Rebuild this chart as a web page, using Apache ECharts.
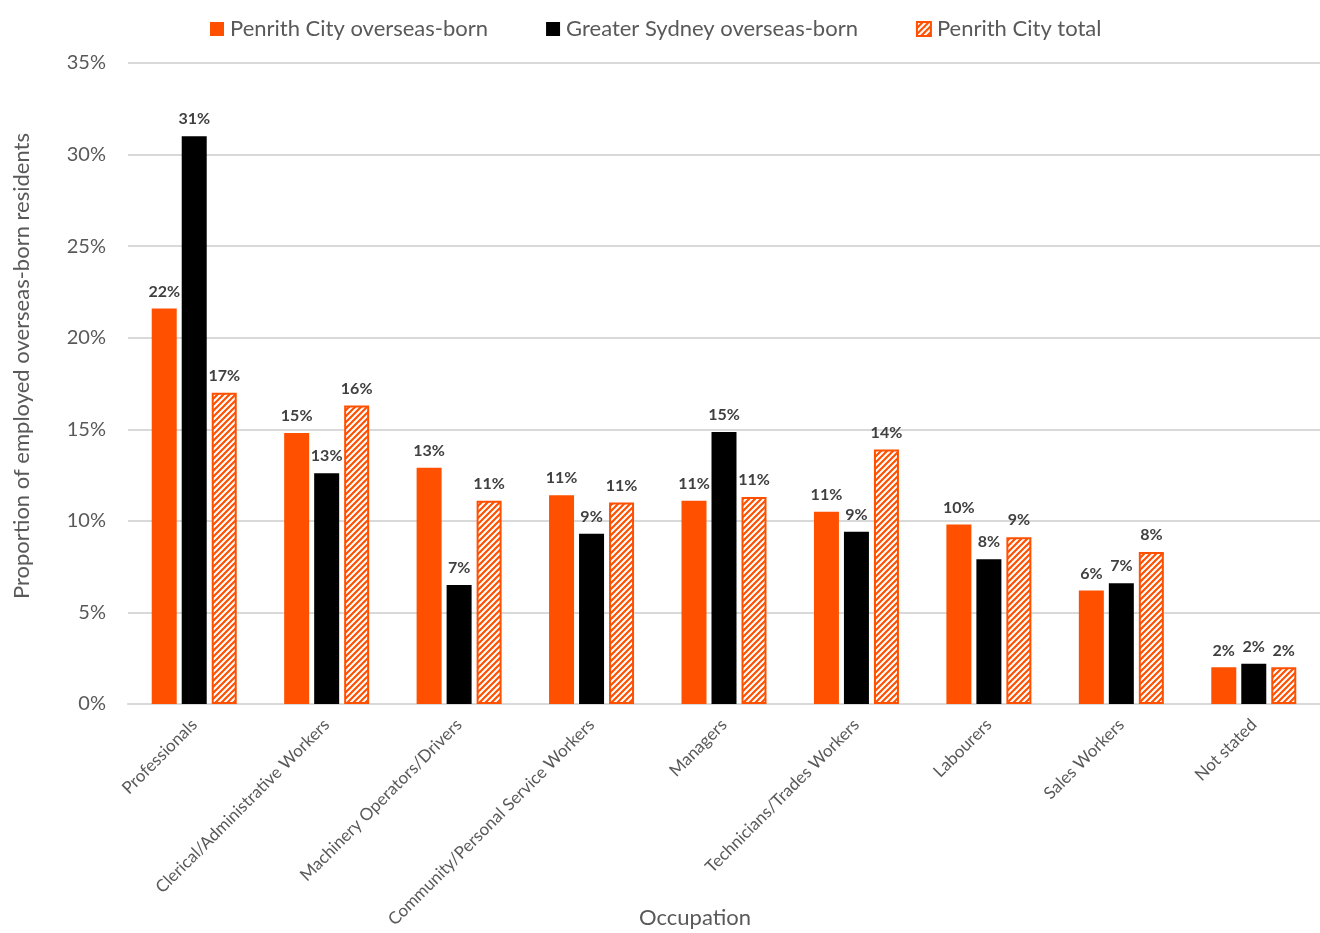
<!DOCTYPE html>
<html>
<head>
<meta charset="utf-8">
<script src="https://cdn.jsdelivr.net/npm/echarts@6/dist/echarts.min.js"></script>
<style>
  html, body { margin: 0; padding: 0; background: #fff; }
  #chart { width: 1320px; height: 933px; }
</style>
</head>
<body>
<div id="chart"></div>
<script>
// Occupation categories (x axis)
const occupations = [
  'Professionals',
  'Clerical/Administrative Workers',
  'Machinery Operators/Drivers',
  'Community/Personal Service Workers',
  'Managers',
  'Technicians/Trades Workers',
  'Labourers',
  'Sales Workers',
  'Not stated'
];

// Share of employed residents by occupation, in percent
const penrithOverseas = [21.6, 14.8, 12.9, 11.4, 11.1, 10.5, 9.8, 6.2, 2.0];
const sydneyOverseas  = [31.0, 12.6, 6.5, 9.3, 14.85, 9.4, 7.9, 6.6, 2.2];
const penrithTotal    = [17.0, 16.3, 11.1, 11.0, 11.3, 13.9, 9.1, 8.3, 2.0];

const seriesNames = ['Penrith City overseas-born', 'Greater Sydney overseas-born', 'Penrith City total'];
const yTicks = { min: 0, max: 35, interval: 5 };

const ORANGE = '#FF5000';
const TEXT_GREY = '#595959';
const FONT = 'Lato, "Open Sans", sans-serif';

// Diagonal hatch fill for the Penrith total bars
function hatchPattern() {
  const size = 6;
  const c = document.createElement('canvas');
  c.width = size; c.height = size;
  const ctx = c.getContext('2d');
  ctx.fillStyle = '#ffffff';
  ctx.fillRect(0, 0, size, size);
  ctx.strokeStyle = ORANGE;
  ctx.lineWidth = 2.2;
  ctx.beginPath();
  ctx.moveTo(-1, size + 1); ctx.lineTo(size + 1, -1);
  ctx.moveTo(-1, 1); ctx.lineTo(1, -1);
  ctx.moveTo(size - 1, size + 1); ctx.lineTo(size + 1, size - 1);
  ctx.stroke();
  return c;
}

const labelStyle = {
  show: true,
  position: 'top',
  distance: 9,
  fontFamily: FONT,
  fontSize: 16,
  fontWeight: 'bold',
  color: '#404040',
  formatter: p => Math.round(p.value) + '%'
};

const chart = echarts.init(document.getElementById('chart'), null, { renderer: 'canvas' });

chart.setOption({
  animation: false,
  backgroundColor: '#ffffff',
  legend: {
    top: 13,
    left: 205,
    itemWidth: 14,
    itemHeight: 14,
    itemGap: 58,
    icon: 'rect',
    textStyle: { fontFamily: FONT, fontSize: 22, color: TEXT_GREY, padding: [0, 0, 0, 1] },
    data: seriesNames
  },
  grid: { left: 128, right: 0, top: 63, bottom: 229, outerBoundsMode: 'none', containLabel: false },
  graphic: [
    {
      type: 'text',
      x: 695,
      y: 918,
      style: {
        text: 'Occupation',
        fontFamily: FONT,
        fontSize: 22,
        fill: TEXT_GREY,
        align: 'center',
        verticalAlign: 'middle'
      }
    },
    {
      type: 'text',
      x: 22,
      y: 366,
      rotation: Math.PI / 2,
      style: {
        text: 'Proportion of employed overseas-born residents',
        fontFamily: FONT,
        fontSize: 22,
        fill: TEXT_GREY,
        align: 'center',
        verticalAlign: 'middle'
      }
    }
  ],
  xAxis: {
    type: 'category',
    data: occupations,
    axisLine: { lineStyle: { color: '#d9d9d9', width: 2 } },
    axisTick: { show: false },
    axisLabel: {
      rotate: 45,
      interval: 0,
      margin: 18,
      fontFamily: FONT,
      fontSize: 17,
      color: TEXT_GREY
    }
  },
  yAxis: {
    type: 'value',
    min: yTicks.min,
    max: yTicks.max,
    interval: yTicks.interval,
    axisLine: { show: false },
    axisTick: { show: false },
    splitLine: { lineStyle: { color: '#d9d9d9', width: 2 } },
    axisLabel: {
      formatter: '{value}%',
      margin: 22,
      fontFamily: FONT,
      fontSize: 20,
      color: TEXT_GREY
    }
  },
  series: [
    {
      name: seriesNames[0],
      type: 'bar',
      data: penrithOverseas,
      barWidth: 25,
      barGap: '20%',
      itemStyle: { color: ORANGE },
      label: labelStyle
    },
    {
      name: seriesNames[1],
      type: 'bar',
      data: sydneyOverseas,
      barWidth: 25,
      barGap: '20%',
      itemStyle: { color: '#000000' },
      label: labelStyle
    },
    {
      name: seriesNames[2],
      type: 'bar',
      data: penrithTotal,
      barWidth: 25,
      barGap: '20%',
      itemStyle: {
        color: { image: hatchPattern(), repeat: 'repeat' },
        borderColor: ORANGE,
        borderWidth: 2
      },
      label: labelStyle
    }
  ]
});
</script>
</body>
</html>
